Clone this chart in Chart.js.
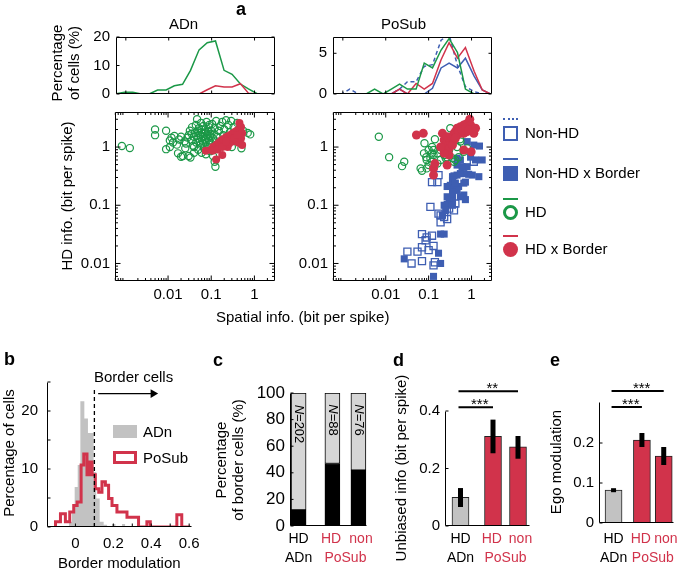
<!DOCTYPE html>
<html>
<head>
<meta charset="utf-8">
<script src="https://cdn.jsdelivr.net/npm/chart.js@4.4.1/dist/chart.umd.min.js"></script>
<style>
  html, body { margin: 0; background: #fff; }
  #fig { position: relative; width: 685px; height: 572px; overflow: hidden;
         font-family: "Liberation Sans", Arial, sans-serif; color: #000; }
  #fig canvas { position: absolute; left: 0; top: 0; }
  .t { position: absolute; white-space: nowrap; font-size: 15px; line-height: 16px; z-index: 5; }
  .sw { position: absolute; box-sizing: border-box; z-index: 5; }
</style>
</head>
<body>
<div id="fig"></div>
<script>
// ---------- panel a: histograms of spatial info (percentage of cells) ----------
const HIST_BINS = [0.0006, 0.00093, 0.00145, 0.0023, 0.0035, 0.0055, 0.0087, 0.0135, 0.021, 0.032,
                   0.051, 0.079, 0.123, 0.195, 0.30, 0.47, 0.72, 1.15, 1.78, 2.75];
const ADN_HIST_HD   = [0.1, 0.6, 0.6, 0, 0, 1.4, 1.4, 2.9, 3.4, 8.2, 15.5, 18, 18.6, 8.3, 6.9, 3.5, 1.8, 0.1, 0, 0];
const ADN_HIST_HDB  = [0, 0, 0, 0, 0, 0, 0, 0, 0, 0, 0, 1.5, 2.9, 2.5, 2.5, 3.6, 0.3, 0, 0, 0];
const ADN_HIST_BASE = [null, null, null, null, null, null, null, null, null, null, null, 0, 0, 0, 0, 0, 0, null, null, null];
const POS_HIST_NONHD  = [0, 0, 0.6, 0, 0, 0, 0, 0, 0.6, 1.5, 1.5, 3.4, 3.6, 6.6, 7.3, 3.5, 0.9, 0.3, 0, 0];
const POS_HIST_NONHDB = [0, 0, 0, 0, 0, 0, 0, 0, 0.6, 0, 0, 0, 0.7, 3.2, 3.8, 3.2, 4.4, 2.2, 0.5, 0];
const POS_HIST_HD     = [0, 0, 0, 0, 0, 0.6, 0, 0.6, 1.2, 0.6, 0.6, 3.8, 3.2, 5.4, 6.8, 5.1, 0.6, 0, 0, 0];
const POS_HIST_HDB    = [0, 0, 0, 0, 0, 0, 0, 0, 0.6, 0, 1.3, 0.6, 1.3, 4.2, 6.3, 4.4, 5.7, 2.8, 0.5, 0];
const POS_HIST_BASE   = [null, null, null, null, null, null, null, null, null, null, null, null, 0, 0, 0, 0, 0, 0, null, null];
const HIST_XTICKS = [0.001, 0.01, 0.1, 1];
const ADN_HIST_YTICKS = [0, 10, 20];
const POS_HIST_YTICKS = [0, 5];
const INFO_MIN = 0.00059, INFO_MAX = 3.0;       // spatial info axis limits
const HDINFO_MIN = 0.005, HDINFO_MAX = 4.0;     // HD info axis limits
const INFO_TICKS = [0.01, 0.1, 1];

// ---------- panel a: scatter, [spatial info, HD info] ----------
const ADN_HD_PTS = [[0.00085,1.04],[0.0013,0.96],[0.005,2.0],[0.005,1.6],[0.009,1.9],[0.009,0.92],[0.011,1.3],
  [0.012,1.45],[0.013,1.2],[0.014,1.55],[0.011,1.0],[0.017,0.78],[0.02,0.68],[0.022,0.7],[0.016,1.1],[0.018,1.35],
  [0.02,1.5],[0.024,1.25],[0.025,0.95],[0.03,0.7],[0.033,0.66],[0.03,1.6],[0.032,1.9],[0.035,1.3],[0.036,2.2],
  [0.038,1.05],[0.04,1.5],[0.042,1.75],[0.044,2.4],[0.045,1.2],[0.047,3.0],[0.048,1.9],[0.05,0.9],[0.05,1.4],
  [0.052,2.1],[0.055,1.6],[0.057,1.1],[0.058,2.6],[0.06,1.8],[0.062,1.3],[0.064,1.5],[0.066,2.3],[0.068,0.95],
  [0.07,1.7],[0.072,2.0],[0.074,1.2],[0.076,1.45],[0.078,2.7],[0.08,1.6],[0.082,1.0],[0.085,1.85],[0.088,2.2],
  [0.09,1.3],[0.092,1.55],[0.095,0.85],[0.1,1.9],[0.1,1.15],[0.105,2.5],[0.11,1.4],[0.11,0.7],[0.115,1.7],
  [0.12,2.1],[0.12,0.56],[0.125,0.46],[0.13,2.8],[0.13,1.25],[0.14,1.5],[0.15,1.9],[0.16,2.3],[0.17,1.1],
  [0.18,2.7],[0.19,1.6],[0.2,2.0],[0.22,2.9],[0.23,1.3],[0.25,2.4],[0.27,1.8],[0.29,2.8],[0.3,1.0],[0.33,2.2],
  [0.35,1.5],[0.4,2.6],[0.45,1.22],[0.5,0.95],[0.55,1.9],[0.7,1.75],[0.8,1.65],[0.035,1.7],[0.04,1.0],
  [0.045,1.55],[0.05,1.75],[0.055,1.25],[0.06,2.0],[0.065,1.15],[0.07,1.35],[0.075,1.8],[0.085,1.4],[0.09,2.4],
  [0.095,1.65],[0.028,1.45],[0.026,1.15],[0.06,0.8],[0.075,0.75],[0.04,0.8]];
const ADN_HDB_PTS = [[0.075,0.86],[0.1,0.91],[0.11,1.0],[0.13,1.08],[0.15,1.19],[0.17,1.29],[0.19,1.36],[0.22,1.47],
  [0.25,1.55],[0.29,1.65],[0.32,1.72],[0.36,1.84],[0.41,1.96],[0.45,2.6],[0.49,2.2],[0.52,1.72],[0.49,1.41],
  [0.43,1.19],[0.52,1.08],[0.13,0.61],[0.18,0.73],[0.24,1.0],[0.31,1.24],[0.107,0.86],[0.14,0.91],[0.18,1.0],
  [0.26,1.15],[0.34,1.41],[0.41,1.61],[0.22,1.24]];
const POS_HD_PTS = [[0.0069,1.5],[0.012,0.67],[0.024,0.47],[0.027,0.56],[0.065,0.43],[0.07,0.39],[0.078,0.78],
  [0.08,1.16],[0.088,0.67],[0.09,0.6],[0.09,0.43],[0.1,0.49],[0.1,0.89],[0.11,0.64],[0.12,0.78],[0.12,0.56],
  [0.12,1.0],[0.13,0.89],[0.13,0.73],[0.14,1.36],[0.16,0.52],[0.16,0.78],[0.19,0.6],[0.19,0.89],[0.23,0.73],
  [0.25,0.64],[0.27,0.67],[0.3,0.89],[0.32,2.1],[0.36,0.64],[0.39,0.56],[0.42,0.6],[0.46,1.0],[0.5,0.67],
  [0.54,1.36],[0.55,1.24],[0.66,0.83],[0.79,0.95]];
const POS_HDB_PTS = [[0.052,1.61],[0.075,1.72],[0.13,0.43],[0.14,0.52],[0.13,0.33],[0.27,0.49],[0.21,1.72],
  [0.23,1.32],[0.25,1.08],[0.27,0.83],[0.3,0.95],[0.32,1.24],[0.36,1.5],[0.39,1.72],[0.42,1.84],[0.46,2.1],
  [0.55,2.24],[0.66,2.4],[0.79,2.55],[0.91,3.0],[0.95,2.4],[1.04,1.96],[1.13,1.72],[0.79,1.84],[0.66,1.72],
  [0.55,1.72],[0.46,1.61],[0.39,1.32],[0.36,1.08],[0.66,0.89],[0.98,0.83],[0.5,1.84],[0.6,1.96],[0.72,2.1],
  [0.86,1.96],[0.3,0.73],[0.23,0.78],[0.19,1.0],[0.27,1.5],[0.42,1.41],[1.24,2.1]];
const POS_NONHDB_PTS = [[1.13,1.08],[1.53,1.04],[1.77,0.6],[1.24,0.6],[1.48,0.31],[1.04,0.33],[0.79,0.46],
  [0.86,0.34],[0.66,0.35],[0.55,0.35],[0.46,0.33],[0.39,0.32],[0.36,0.31],[0.79,1.24],[0.95,0.67],[0.55,0.6],
  [0.46,0.64],[0.36,0.27],[0.32,0.22],[0.39,0.2],[0.5,0.21],[0.66,0.24],[0.72,0.25],[0.66,0.15],[0.72,0.125],
  [0.46,0.18],[0.36,0.17],[0.36,0.14],[0.36,0.12],[0.3,0.114],[0.27,0.104],[0.23,0.1],[0.25,0.082],[0.36,0.1],
  [0.21,0.067],[0.19,0.032],[0.23,0.032],[0.17,0.015],[0.19,0.01],[0.13,0.006],[0.027,0.012],[0.27,0.14],
  [0.42,0.24],[0.55,0.14],[0.27,0.21],[0.6,0.46],[0.46,0.49]];
const POS_NONHD_PTS = [[0.032,0.016],[0.04,0.01],[0.055,0.016],[0.07,0.011],[0.07,0.032],[0.085,0.025],
  [0.09,0.028],[0.1,0.017],[0.12,0.03],[0.11,0.094],[0.12,0.25],[0.16,0.25],[0.17,0.33],[0.17,0.072],
  [0.19,0.051],[0.23,0.063],[0.27,0.058],[0.3,0.088],[0.19,0.067],[0.13,0.0093],[0.14,0.0105],[0.39,0.082],
  [0.42,0.107],[0.07,0.019],[0.13,0.02],[1.13,0.56]];

// ---------- panel b: border modulation histograms (left bin edge, %) ----------
const BORDER_ADN_X = [-0.035, -0.018, -0.004, 0.012, 0.026, 0.047, 0.066, 0.096, 0.110, 0.128, 0.149, 0.167, 0.193, 0.211, 0.246, 0.263];
const BORDER_ADN_Y = [0.9, 2.6, 6.9, 10.7, 21.7, 18.7, 16.2, 9.5, 4.9, 0.9, 0.4, 0, 0.5, 0, 0.5, 0];
const BORDER_POS_X = [-0.105, -0.105, -0.079, -0.053, -0.030, -0.009, 0.009, 0.030, 0.044, 0.061, 0.075, 0.088,
                      0.105, 0.123, 0.140, 0.158, 0.175, 0.193, 0.219, 0.246, 0.272, 0.333, 0.377, 0.395, 0.535, 0.561, 0.605];
const BORDER_POS_Y = [0, 0.9, 2.3, 0.9, 2.6, 3.7, 4.3, 10.7, 12.6, 9.0, 11.2, 9.0, 6.6, 6.0, 7.8, 7.2, 4.9, 3.7,
                      2.6, 2.6, 1.7, 0, 0.9, 0, 2.1, 0, 0];
const BORDER_THRESH = 0.1;
const BORDER_XTICKS = [0, 0.1, 0.2, 0.3, 0.4, 0.5, 0.6];
const BORDER_XLABELS = ['0', '', '0.2', '', '0.4', '', '0.6'];
const BORDER_YTICKS = [0, 5, 10, 15, 20, 25];
const BORDER_YLABELS = ['0', '', '10', '', '20', ''];

// ---------- panels c-e: groups ----------
const GROUP_X = [1, 2.3, 3.3];
const GROUP_TICKS = [1, 2.25, 2.8, 3.4];
const GROUP_LABELS = [['HD', 'ADn'], ['HD', ''], ['', 'PoSub'], ['non', '']];
const PCT_BORDER = [12, 47, 42];
const N_CELLS = ['202', '88', '76'];
const PCT_TICKS = [0, 20, 40, 60, 80, 100];
const INFO_MEAN = [0.10, 0.312, 0.275];
const INFO_LO = [0.066, 0.253, 0.234];
const INFO_HI = [0.132, 0.37, 0.313];
const INFO_SIG = [[0, 1, 0.413, '***'], [0, 2, 0.469, '**']];
const EGO_MEAN = [0.082, 0.207, 0.167];
const EGO_LO = [0.077, 0.19, 0.145];
const EGO_HI = [0.087, 0.225, 0.19];
const EGO_SIG = [[0, 1, 0.29, '***'], [0, 2, 0.33, '***']];

// ---------- drawing ----------
const W = 685, H = 572;
const RED = '#d1334b', GREEN = '#1b9847', BLUE = '#3e5eb2', GREY = '#c2c2c2', LIGHT = '#d6d6d6';
Chart.defaults.font.family = '"Liberation Sans", Arial, sans-serif';
Chart.defaults.font.size = 15;
Chart.defaults.color = '#000';
const fig = document.getElementById('fig');

function canvas() {
  const c = document.createElement('canvas');
  c.width = W; c.height = H;
  fig.appendChild(c);
  return c;
}

// every chart gets a full-page canvas; padding puts its plot box at page coordinates
function place(box, yw, xh) {
  return { padding: { left: box.l - yw, top: box.t, right: W - box.r, bottom: H - box.b - xh } };
}

function axis(o) {
  return {
    type: o.type || 'linear', min: o.min, max: o.max, offset: false,
    grid: { display: false, drawTicks: false }, border: { display: false },
    afterBuildTicks: (s) => { s.ticks = o.ticks.map((v) => ({ value: v })); },
    afterFit: (s) => { if (o.w !== undefined) s.width = o.w; if (o.h !== undefined) s.height = o.h; },
    ticks: {
      display: o.labels !== false, padding: o.pad ?? 5, autoSkip: false, maxRotation: 0, minRotation: 0,
      font: { size: o.size || 15, lineHeight: o.lh || 1.27 }, color: o.color || '#000',
      callback: o.fmt || ((v) => String(v)),
    },
  };
}

// matlab-like axes: box or L-shaped, ticks pointing inward
function frame(opts) {
  return {
    id: 'frame',
    afterDatasetsDraw(chart) {
      const { ctx, chartArea: a, scales: { x, y } } = chart;
      const len = opts.len || 4;
      const L = Math.round(a.left) + 0.5, R = Math.round(a.right) - 0.5;
      const T = Math.round(a.top) + 0.5, B = Math.round(a.bottom) - 0.5;
      ctx.save();
      ctx.strokeStyle = '#000';
      ctx.lineWidth = 1;
      ctx.beginPath();
      if (opts.box) ctx.rect(L, T, R - L, B - T);
      else { ctx.moveTo(L, T); ctx.lineTo(L, B); ctx.lineTo(R, B); }
      const xt = (v, l) => {
        const p = x.getPixelForValue(v);
        ctx.moveTo(p, B); ctx.lineTo(p, B - l);
        if (opts.box) { ctx.moveTo(p, T); ctx.lineTo(p, T + l); }
      };
      const yt = (v, l) => {
        const p = y.getPixelForValue(v);
        ctx.moveTo(L, p); ctx.lineTo(L + l, p);
        if (opts.box) { ctx.moveTo(R, p); ctx.lineTo(R - l, p); }
      };
      if (opts.xTicks) x.ticks.forEach((t) => xt(t.value, len));
      y.ticks.forEach((t) => yt(t.value, len));
      if (opts.minor) {
        [[x, xt], [y, yt]].forEach(([s, f]) => {
          for (let k = -4; k <= 1; k++) for (let m = 2; m <= 9; m++) {
            const v = m * Math.pow(10, k);
            if (v > s.min && v < s.max) f(v, len / 2);
          }
        });
      }
      ctx.stroke();
      ctx.restore();
    },
  };
}

// error bars and significance brackets for c-e style bar charts
function whiskers(xs, lo, hi, sig) {
  return {
    id: 'whiskers',
    afterDatasetsDraw(chart) {
      const { ctx, scales: { x, y } } = chart;
      ctx.save();
      ctx.strokeStyle = '#000';
      ctx.fillStyle = '#000';
      ctx.lineWidth = 5;
      xs.forEach((v, i) => {
        const p = x.getPixelForValue(v);
        ctx.beginPath();
        ctx.moveTo(p, y.getPixelForValue(lo[i]));
        ctx.lineTo(p, y.getPixelForValue(hi[i]));
        ctx.stroke();
      });
      ctx.lineWidth = 2;
      ctx.font = '15px "Liberation Sans", Arial, sans-serif';
      ctx.textAlign = 'center';
      ctx.textBaseline = 'alphabetic';
      sig.forEach(([i, j, v, s]) => {
        const p = y.getPixelForValue(v);
        const a = x.getPixelForValue(xs[i]) - 2, b = x.getPixelForValue(xs[j]);
        ctx.beginPath(); ctx.moveTo(a, p); ctx.lineTo(b, p); ctx.stroke();
        ctx.fillText(s, (a + b) / 2 + 4, p + 2);
      });
      ctx.restore();
    },
  };
}

const pts = (list) => list.map(([x, y]) => ({ x, y }));
const series = (xs, ys) => xs.map((x, i) => ({ x, y: ys[i] }));
const base = { responsive: false, animation: false, events: [], plugins: { legend: { display: false }, tooltip: { enabled: false } } };

function hline(data, color, order, extra) {
  return Object.assign({ data, borderColor: color, borderWidth: 1.5, pointRadius: 0, fill: false, tension: 0, order }, extra || {});
}

// --- a: histograms ---
function histChart(box, datasets, yMax, yTicks) {
  new Chart(canvas(), {
    type: 'line',
    data: { datasets },
    options: Object.assign({}, base, {
      layout: place(box, 40, 0),
      scales: {
        x: axis({ type: 'logarithmic', min: INFO_MIN, max: INFO_MAX, ticks: HIST_XTICKS, labels: false, h: 0 }),
        y: axis({ min: 0, max: yMax, ticks: yTicks, w: 40, pad: 6 }),
      },
    }),
    plugins: [frame({ box: true, xTicks: true, len: 3 })],
  });
}
histChart({ l: 116, t: 37, r: 275, b: 94 }, [
  hline(series(HIST_BINS, ADN_HIST_BASE), '#000', 0, { borderWidth: 2 }),
  hline(series(HIST_BINS, ADN_HIST_HDB), RED, 1),
  hline(series(HIST_BINS, ADN_HIST_HD), GREEN, 2),
], 20, ADN_HIST_YTICKS);
histChart({ l: 333, t: 37, r: 492, b: 94 }, [
  hline(series(HIST_BINS, POS_HIST_BASE), '#000', 0, { borderWidth: 2 }),
  hline(series(HIST_BINS, POS_HIST_HD), GREEN, 1),
  hline(series(HIST_BINS, POS_HIST_HDB), RED, 2),
  hline(series(HIST_BINS, POS_HIST_NONHDB), BLUE, 3),
  hline(series(HIST_BINS, POS_HIST_NONHD), BLUE, 4, { borderDash: [4, 3] }),
], 7, POS_HIST_YTICKS);

// --- a: scatter ---
const openCircle = (data, order) => ({ data: pts(data), pointStyle: 'circle', pointRadius: 3.6, borderColor: GREEN, backgroundColor: 'rgba(0,0,0,0)', borderWidth: 1.2, order });
const dot = (data, order, r) => ({ data: pts(data), pointStyle: 'circle', pointRadius: r, borderColor: RED, backgroundColor: RED, borderWidth: 0, order });
function scatterChart(box, datasets) {
  new Chart(canvas(), {
    type: 'scatter',
    data: { datasets },
    options: Object.assign({}, base, {
      layout: place(box, 50, 25),
      scales: {
        x: axis({ type: 'logarithmic', min: INFO_MIN, max: INFO_MAX, ticks: INFO_TICKS, h: 25, pad: 4 }),
        y: axis({ type: 'logarithmic', min: HDINFO_MIN, max: HDINFO_MAX, ticks: INFO_TICKS, w: 50, pad: 5 }),
      },
    }),
    plugins: [frame({ box: true, xTicks: true, minor: true, len: 5 })],
  });
}
scatterChart({ l: 115, t: 112, r: 275, b: 281 }, [
  dot(ADN_HDB_PTS, 0, 4),
  openCircle(ADN_HD_PTS, 1),
]);
scatterChart({ l: 333, t: 112, r: 492, b: 281 }, [
  dot(POS_HDB_PTS, 0, 4.5),
  openCircle(POS_HD_PTS, 1),
  { data: pts(POS_NONHDB_PTS), pointStyle: 'rect', pointRadius: 5, borderColor: BLUE, backgroundColor: BLUE, borderWidth: 0, order: 2 },
  { data: pts(POS_NONHD_PTS), pointStyle: 'rect', pointRadius: 5, borderColor: BLUE, backgroundColor: 'rgba(0,0,0,0)', borderWidth: 1.3, order: 3 },
]);

// --- b: border modulation ---
new Chart(canvas(), {
  type: 'line',
  data: {
    datasets: [
      hline([{ x: BORDER_THRESH, y: 0 }, { x: BORDER_THRESH, y: 24 }], '#000', 0, { borderWidth: 1.3, borderDash: [4, 3] }),
      hline([{ x: 0.12, y: 23 }, { x: 0.41, y: 23 }], '#000', 0, {
        borderWidth: 1.3, pointRadius: [0, 5], pointStyle: 'triangle', rotation: 90, pointBackgroundColor: '#000', pointBorderWidth: 0,
      }),
      hline(series(BORDER_POS_X, BORDER_POS_Y), RED, 1, { stepped: 'before', borderWidth: 3 }),
      hline(series(BORDER_ADN_X, BORDER_ADN_Y), GREY, 2, { stepped: 'before', borderWidth: 0, fill: 'origin', backgroundColor: GREY }),
    ],
  },
  options: Object.assign({}, base, {
    layout: place({ l: 47, t: 382, r: 192, b: 527 }, 47, 30),
    scales: {
      x: axis({ min: -0.15, max: 0.615, ticks: BORDER_XTICKS, h: 30, pad: 7, fmt: (v, i) => BORDER_XLABELS[i] }),
      y: axis({ min: 0, max: 25, ticks: BORDER_YTICKS, w: 47, pad: 9, fmt: (v, i) => BORDER_YLABELS[i] }),
    },
  }),
  plugins: [frame({ xTicks: true, len: 3 })],
});

// --- c: percentage of border cells ---
const groupX = (pad) => axis({
  min: 0, max: 1, ticks: GROUP_TICKS, h: 45, pad, size: 14, lh: 1.36,
  fmt: (v, i) => GROUP_LABELS[i], color: (c) => (c.index === 0 ? '#000' : RED),
});
new Chart(canvas(), {
  type: 'bar',
  data: {
    datasets: [
      { data: GROUP_X.map((x, i) => ({ x, y: [0, PCT_BORDER[i]] })), backgroundColor: '#000', borderColor: '#000',
        borderWidth: 1, borderSkipped: false, barThickness: 15, grouped: false },
      { data: GROUP_X.map((x, i) => ({ x, y: [PCT_BORDER[i], 100] })), backgroundColor: LIGHT, borderColor: '#000',
        borderWidth: 1, borderSkipped: false, barThickness: 15, grouped: false },
    ],
  },
  options: Object.assign({}, base, {
    layout: place({ l: 290, t: 393, r: 367, b: 526 }, 60, 45),
    scales: {
      x: Object.assign(groupX(4), { min: 0.67, max: 3.63 }),
      y: axis({ min: 0, max: 100, ticks: PCT_TICKS, w: 60, pad: 5, size: 17 }),
    },
  }),
  plugins: [frame({ len: 3 })],
});

// --- d / e: bars with error bars ---
function meanBars(box, mean, lo, hi, sig, xr, yr, yTicks, xPad) {
  new Chart(canvas(), {
    type: 'bar',
    data: {
      datasets: [{
        data: GROUP_X.map((x, i) => ({ x, y: mean[i] })), backgroundColor: [GREY, RED, RED],
        borderColor: '#222', borderWidth: 1, borderSkipped: false, barThickness: 17,
      }],
    },
    options: Object.assign({}, base, {
      layout: place(box, 50, 45),
      scales: {
        x: Object.assign(groupX(xPad), { min: xr[0], max: xr[1] }),
        y: axis({ min: 0, max: yr, ticks: yTicks, w: 50, pad: 5 }),
      },
    }),
    plugins: [frame({ len: 3 }), whiskers(GROUP_X, lo, hi, sig)],
  });
}
meanBars({ l: 445, t: 411, r: 530, b: 526 }, INFO_MEAN, INFO_LO, INFO_HI, INFO_SIG, [0.38, 3.78], 0.4, [0, 0.2, 0.4], 4);
meanBars({ l: 599, t: 402, r: 681, b: 523 }, EGO_MEAN, EGO_LO, EGO_HI, EGO_SIG, [0.333, 3.75], 0.3025, [0, 0.1, 0.2], 7);

// ---------- text and legends ----------
// place text by its centre (or left edge), snapped to whole pixels so rotated labels stay crisp
function txt(s, x, y, o = {}) {
  const d = document.createElement('div');
  d.className = 't';
  d.innerHTML = s;
  if (o.size) { d.style.fontSize = o.size + 'px'; d.style.lineHeight = (o.size + 1) + 'px'; }
  if (o.bold) d.style.fontWeight = 'bold';
  if (o.color) d.style.color = o.color;
  fig.appendChild(d);
  let w = Math.ceil(d.getBoundingClientRect().width);
  const h = d.offsetHeight;
  if (o.rot && (w - h) % 2) w += 1;   // keep the rotation centre on a whole pixel
  d.style.width = w + 'px';
  d.style.left = Math.round(o.left ? x : x - w / 2) + 'px';
  d.style.top = Math.round(y - h / 2) + 'px';
  if (o.rot) { d.style.textAlign = 'center'; d.style.transform = 'rotate(' + o.rot + 'deg)'; }
}
function swatch(x, y, w, h, css) {
  const d = document.createElement('div');
  d.className = 'sw';
  Object.assign(d.style, { left: x + 'px', top: y + 'px', width: w + 'px', height: h + 'px' }, css);
  fig.appendChild(d);
}

txt('a', 241, 9, { bold: true, size: 18 });
txt('ADn', 184, 24);
txt('PoSub', 404, 24);
txt('Percentage', 57, 63, { rot: -90 });
txt('of cells (%)', 74, 63, { rot: -90 });
txt('HD info. (bit per spike)', 67, 196, { rot: -90 });
txt('Spatial info. (bit per spike)', 303, 317);

swatch(503, 118, 15, 2, { borderTop: '2px dotted ' + BLUE });
swatch(503, 126, 15, 15, { border: '2px solid ' + BLUE });
txt('Non-HD', 525, 133, { left: true });
swatch(503, 158, 15, 2, { background: BLUE });
swatch(503, 166, 15, 15, { background: BLUE });
txt('Non-HD x Border', 525, 173, { left: true });
swatch(503, 198, 15, 2, { background: GREEN });
swatch(503, 205, 15, 15, { border: '3px solid ' + GREEN, borderRadius: '50%' });
txt('HD', 525, 212, { left: true });
swatch(503, 235, 15, 2, { background: RED });
swatch(503, 242, 15, 15, { background: RED, borderRadius: '50%' });
txt('HD x Border', 525, 249, { left: true });

txt('b', 9, 359, { bold: true, size: 18 });
txt('Border cells', 134, 377);
swatch(113, 425, 24, 13, { background: GREY });
txt('ADn', 143, 432, { left: true });
swatch(113, 451, 24, 13, { border: '3px solid ' + RED });
txt('PoSub', 143, 458, { left: true });
txt('Percentage of cells', 9, 453, { rot: -90 });
txt('Border modulation', 119, 563);

txt('c', 218, 360, { bold: true, size: 18 });
txt('Percentage', 221, 460, { rot: -90 });
txt('of border cells (%)', 238, 460, { rot: -90 });
[298.5, 332.5, 358.5].forEach((x, i) => {
  const len = N_CELLS[i].length;
  txt('<i>N</i>=' + N_CELLS[i], x, 404 + (len + 2) * 4, { rot: 90, size: 13 });
});

txt('d', 398, 360, { bold: true, size: 18 });
txt('Unbiased info (bit per spike)', 401, 468, { rot: -90 });
txt('e', 555, 360, { bold: true, size: 18 });
txt('Ego modulation', 556, 462, { rot: -90 });
</script>
</body>
</html>
